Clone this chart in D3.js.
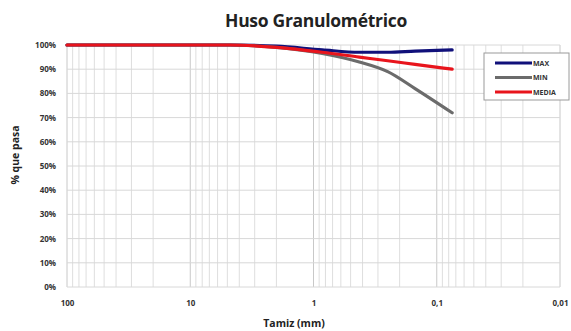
<!DOCTYPE html>
<html><head><meta charset="utf-8">
<script src="https://cdn.jsdelivr.net/npm/d3@7"></script>
<style>body{margin:0;background:#fff}svg{display:block}</style>
</head><body>
<svg id="c" width="571" height="331"></svg>
<script>
const sieves = [100, 75, 50, 37.5, 25, 19, 12.5, 9.5, 4.75, 2, 0.85, 0.425, 0.25, 0.15, 0.075];
const maxVals = [100, 100, 100, 100, 100, 100, 100, 100, 100, 99.5, 98, 97, 97, 97.5, 98];
const minVals = [100, 100, 100, 100, 100, 100, 100, 100, 100, 99, 96.5, 93, 89, 82, 72];
const mediaVals = [100, 100, 100, 100, 100, 100, 100, 100, 100, 99, 97, 95, 93.5, 92, 90];
const seriesNames = ["MAX", "MIN", "MEDIA"];
const seriesColors = ["#10107a", "#6b6b6b", "#e8141c"];
const xTicks = [100, 10, 1, 0.1, 0.01];
const xTickLabels = ["100", "10", "1", "0,1", "0,01"];
const yTicks = [0, 10, 20, 30, 40, 50, 60, 70, 80, 90, 100];

const svg = d3.select("#c");
const L = 67, R = 560, T = 45, B = 287;
const x = d3.scaleLog().domain([100, 0.01]).range([L, R]);
const y = d3.scaleLinear().domain([0, 100]).range([B, T]);

// grid
const minor = [];
for (let e = -2; e < 2; e++) for (let k = 1; k <= 9; k++) minor.push(k * Math.pow(10, e));
minor.push(100);
svg.append("g").selectAll("line").data(minor).join("line")
  .attr("x1", d => x(d)).attr("x2", d => x(d)).attr("y1", T).attr("y2", B)
  .attr("stroke", d => xTicks.includes(+d.toPrecision(3)) ? "#c8c8c8" : "#dedede").attr("stroke-width", 1);
svg.append("g").selectAll("line").data(yTicks).join("line")
  .attr("x1", L).attr("x2", R).attr("y1", d => y(d)).attr("y2", d => y(d))
  .attr("stroke", "#d8d8d8").attr("stroke-width", 1);

// axes labels
const yAxis = d3.axisLeft(y).tickValues(yTicks).tickFormat(d => d + "%").tickSize(0).tickPadding(11);
const gy = svg.append("g").attr("transform", `translate(${L},0)`).call(yAxis);
gy.select(".domain").remove();
gy.selectAll("text").attr("font-family", "Open Sans, sans-serif").attr("font-size", 8).attr("font-weight", "bold").attr("fill", "#333");

const xAxis = d3.axisBottom(x).tickValues(xTicks).tickFormat((d, i) => xTickLabels[i]).tickSize(0).tickPadding(13);
const gx = svg.append("g").attr("transform", `translate(0,${B})`).call(xAxis);
gx.select(".domain").remove();
gx.selectAll("text").attr("font-family", "Open Sans, sans-serif").attr("font-size", 8).attr("font-weight", "bold").attr("fill", "#333");

// lines
const line = d3.line().x((d, i) => x(sieves[i])).y(d => y(d)).curve(d3.curveMonotoneX);
const allVals = [maxVals, minVals, mediaVals];
allVals.forEach((vals, i) => {
  svg.append("path").attr("d", line(vals)).attr("fill", "none")
    .attr("stroke", seriesColors[i]).attr("stroke-width", 3.2).attr("stroke-linecap", "round");
});

// titles
svg.append("text").attr("x", 316).attr("y", 27).attr("text-anchor", "middle")
  .attr("font-family", "Open Sans, sans-serif").attr("font-weight", "bold").attr("font-size", 17.5).attr("fill", "#222")
  .attr("letter-spacing", -0.3)
  .text("Huso Granulométrico");
svg.append("text").attr("x", 294).attr("y", 327).attr("text-anchor", "middle")
  .attr("font-family", "Open Sans, sans-serif").attr("font-weight", "bold").attr("font-size", 10.5).attr("fill", "#222")
  .text("Tamiz (mm)");
svg.append("text").attr("transform", "translate(19,155) rotate(-90)").attr("text-anchor", "middle")
  .attr("font-family", "Open Sans, sans-serif").attr("font-weight", "bold").attr("font-size", 10.5).attr("fill", "#222")
  .text("% que pasa");

// legend
const lg = svg.append("g");
lg.append("rect").attr("x", 484).attr("y", 53).attr("width", 85).attr("height", 47)
  .attr("fill", "#fff").attr("stroke", "#9a9a9a").attr("stroke-width", 1);
seriesNames.forEach((n, i) => {
  const yy = 63 + i * 14.5;
  lg.append("line").attr("x1", 495).attr("x2", 532).attr("y1", yy).attr("y2", yy)
    .attr("stroke", seriesColors[i]).attr("stroke-width", 3);
  lg.append("text").attr("x", 533).attr("y", yy + 2.5).attr("font-family", "Open Sans, sans-serif")
    .attr("font-size", 7).attr("font-weight", "bold").attr("fill", "#333").text(n);
});
</script>
</body></html>
